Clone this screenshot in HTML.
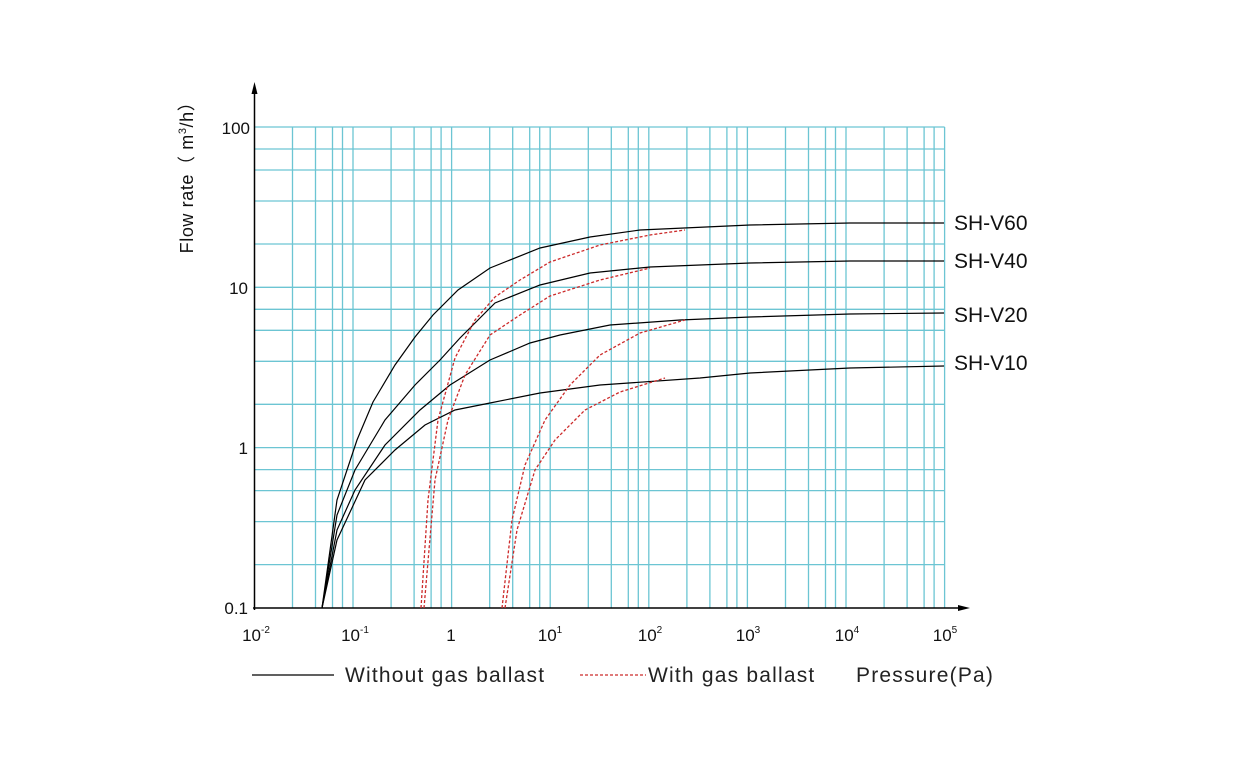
<!DOCTYPE html><html><head><style>body{margin:0;background:#fff}svg{display:block}</style></head><body>
<svg width="1240" height="758" xmlns="http://www.w3.org/2000/svg" font-family="Liberation Sans, sans-serif">
<path fill="none" stroke="#6cc5d3" stroke-width="1.3" d="
M292.5 127V608M315.5 127V608M332.5 127V608M342.5 127V608M353 127V608
M391.1 127V608M414.1 127V608M431.1 127V608M441.1 127V608M451.6 127V608
M489.7 127V608M512.7 127V608M529.7 127V608M539.7 127V608M550.2 127V608
M588.3 127V608M611.3 127V608M628.3 127V608M638.3 127V608M648.8 127V608
M686.9 127V608M709.9 127V608M726.9 127V608M736.9 127V608M747.4 127V608
M785.5 127V608M808.5 127V608M825.5 127V608M835.5 127V608M846 127V608
M884.1 127V608M907.1 127V608M924.1 127V608M934.1 127V608M944.6 127V608
M254 127H944.6M254 149H944.6M254 170H944.6M254 201H944.6M254 244H944.6
M254 287.3H944.6M254 309.3H944.6M254 330.3H944.6M254 361.3H944.6M254 404.3H944.6
M254 447.6H944.6M254 469.6H944.6M254 490.6H944.6M254 521.6H944.6M254 564.6H944.6"/>
<line x1="254.5" y1="610" x2="254.5" y2="90" stroke="#000" stroke-width="1.5"/>
<polygon points="254.5,82 251.5,94 257.5,94" fill="#000"/>
<line x1="253" y1="608" x2="962" y2="608" stroke="#000" stroke-width="1.5"/>
<polygon points="970,608 958,605 958,611" fill="#000"/>
<g fill="none" stroke="#000" stroke-width="1.2">
<polyline points="322,608 337,500 357,440 373,402 395,365 415,337 433,315 458,290 490,268 540,248 590,237 640,230 750,225 850,223 944,223"/>
<polyline points="322,608 337,515 355,470 385,420 415,385 440,360 460,338 495,303 540,285 590,273 650,267 750,263 850,261 944,261"/>
<polyline points="322,608 337,530 355,490 385,445 420,410 450,385 490,360 530,343 560,335 610,325 680,320 750,317 850,314 944,313"/>
<polyline points="322,608 337,540 365,480 395,450 425,425 455,410 490,403 540,393 600,385 700,378 750,373 850,368 944,366"/>
</g>
<g fill="none" stroke="#cc2a2a" stroke-width="1.3" stroke-dasharray="3,2">
<polyline points="421,608 428,500 438,420 455,358 475,320 495,297 520,280 550,262 600,245 650,235 685,230"/>
<polyline points="424,608 435,480 448,420 465,375 490,335 520,315 550,296 600,280 650,268"/>
<polyline points="502,608 512,520 525,465 545,420 570,385 600,355 640,333 685,320"/>
<polyline points="505,608 517,530 535,470 555,440 585,410 620,392 665,378"/>
</g>
<g font-size="21" fill="#111">
<text x="954" y="230">SH-V60</text><text x="954" y="268">SH-V40</text>
<text x="954" y="322">SH-V20</text><text x="954" y="370">SH-V10</text>
</g>
<g font-size="17" fill="#111" text-anchor="end">
<text x="250" y="134">100</text><text x="248" y="294">10</text><text x="248" y="454">1</text><text x="248" y="614">0.1</text>
</g>
<g font-size="17" fill="#111" text-anchor="middle">
<text x="256" y="641">10<tspan font-size="10" dy="-8">-2</tspan></text>
<text x="355" y="641">10<tspan font-size="10" dy="-8">-1</tspan></text>
<text x="451" y="641">1</text>
<text x="550" y="641">10<tspan font-size="10" dy="-8">1</tspan></text>
<text x="650" y="641">10<tspan font-size="10" dy="-8">2</tspan></text>
<text x="748" y="641">10<tspan font-size="10" dy="-8">3</tspan></text>
<text x="847" y="641">10<tspan font-size="10" dy="-8">4</tspan></text>
<text x="945" y="641">10<tspan font-size="10" dy="-8">5</tspan></text>
</g>
<text transform="translate(193,173) rotate(-90)" font-size="18" letter-spacing="0.6" fill="#111" text-anchor="middle">Flow rate（ m<tspan font-size="11" dy="-7">3</tspan><tspan dy="7">/h）</tspan></text>
<line x1="252" y1="675" x2="334" y2="675" stroke="#000" stroke-width="1.3"/>
<text x="345" y="682" font-size="21" letter-spacing="1.2" fill="#222">Without gas ballast</text>
<line x1="580" y1="675" x2="646" y2="675" stroke="#cc2a2a" stroke-width="1.3" stroke-dasharray="3,2"/>
<text x="648" y="682" font-size="21" letter-spacing="1.2" fill="#222">With gas ballast</text>
<text x="856" y="682" font-size="21" letter-spacing="1.2" fill="#222">Pressure(Pa)</text>
</svg></body></html>
